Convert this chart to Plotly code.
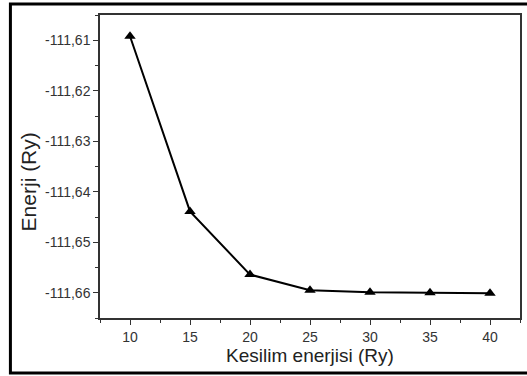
import plotly.graph_objects as go

# Total energy versus plane-wave cutoff energy
cutoff_ry = [10, 15, 20, 25, 30, 35, 40]
energy_ry = [-111.6092, -111.6439, -111.6564, -111.6595, -111.6599, -111.6600, -111.6601]

x_ticks = [10, 15, 20, 25, 30, 35, 40]
y_ticks = [-111.61, -111.62, -111.63, -111.64, -111.65, -111.66]
# Turkish decimal comma with a plain hyphen for the sign
y_tick_labels = [f"{v:.2f}".replace(".", ",") for v in y_ticks]

font_family = "Liberation Sans, Arial, sans-serif"

fig = go.Figure(
    go.Scatter(
        x=cutoff_ry,
        y=energy_ry,
        mode="lines+markers",
        line=dict(color="black", width=2),
        marker=dict(symbol="triangle-up", size=10, color="black"),
        showlegend=False,
    )
)

axis_common = dict(
    showgrid=False,
    zeroline=False,
    showline=True,
    linecolor="#333333",
    linewidth=1.5,
    mirror=True,
    ticks="outside",
    ticklen=5,
    tickwidth=1,
    tickcolor="#333333",
    tickfont=dict(family=font_family, size=14, color="#333333"),
)

fig.update_xaxes(
    **axis_common,
    range=[7.5, 42.5],
    tickvals=x_ticks,
    minor=dict(ticks="outside", ticklen=3, tickcolor="#333333", dtick=2.5, tick0=7.5),
    title=dict(text="Kesilim enerjisi (Ry)", font=dict(family=font_family, size=19, color="#222222"), standoff=5),
)
fig.update_yaxes(
    **axis_common,
    range=[-111.665, -111.605],
    tickvals=y_ticks,
    ticktext=y_tick_labels,
    minor=dict(ticks="outside", ticklen=3, tickcolor="#333333", dtick=0.005, tick0=-111.665),
)

# Vertical axis title
fig.add_annotation(
    text="Enerji (Ry)", textangle=-90,
    xref="paper", yref="paper", x=-0.168, y=0.449,
    xanchor="center", yanchor="middle",
    showarrow=False,
    font=dict(family=font_family, size=21, color="#222222"),
)

# Outer frame around the whole figure
fig.add_shape(
    type="rect", xref="paper", yref="paper",
    x0=-0.2133, x1=1.08, y0=-0.1815, y1=1.0363,
    line=dict(color="black", width=3),
)

fig.update_layout(
    width=527,
    height=376,
    margin=dict(l=100, r=5, t=15, b=58),
    paper_bgcolor="white",
    plot_bgcolor="white",
    font=dict(family=font_family),
)

fig.write_html("out.html")
